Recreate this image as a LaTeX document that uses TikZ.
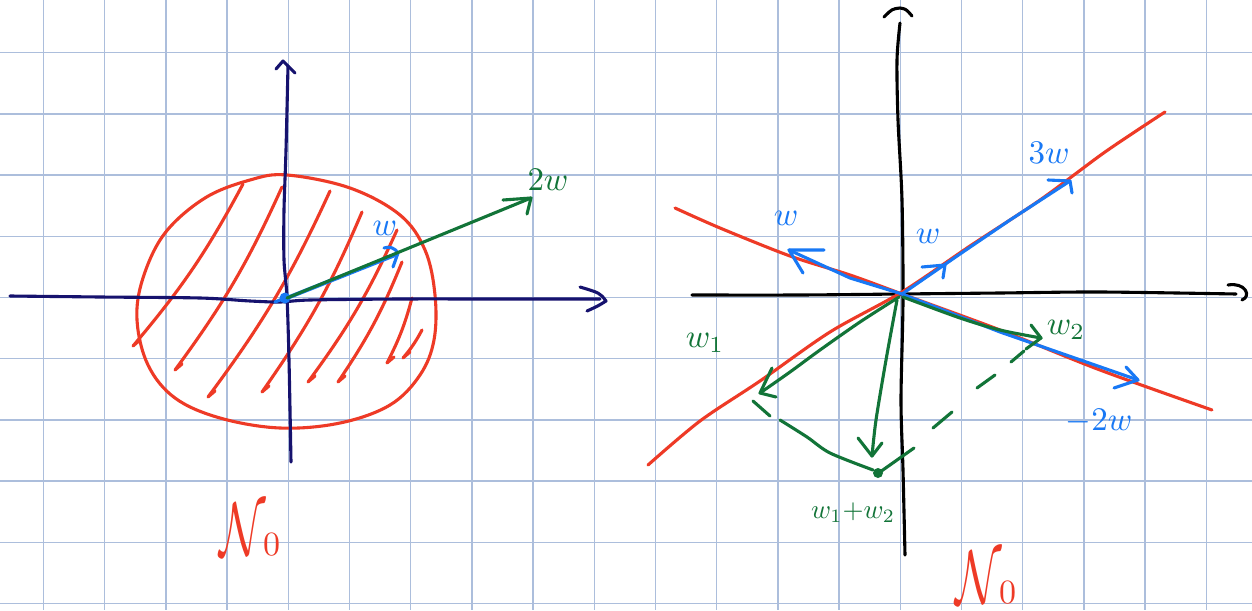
\documentclass[tikz,border=0pt]{standalone}
\usepackage{amsmath}
\definecolor{gridc}{RGB}{172,190,220}
\definecolor{navy}{RGB}{22,18,110}
\definecolor{pred}{RGB}{238,58,38}
\definecolor{pgreen}{RGB}{18,116,56}
\definecolor{pblue}{RGB}{24,120,245}
\tikzset{
  gridline/.style={draw=gridc, line width=1.4pt},
  pen/.style={line width=3.1pt, line cap=round, line join=round},
  lab/.style={inner sep=0pt},
}
\newcommand{\lbl}[1]{\scalebox{3.3}{$#1$}}
\newcommand{\bigN}{\scalebox{4.8}[7.6]{$\mathcal{N}$}\kern-3pt\scalebox{3.4}{$0$}}
\begin{document}
\begin{tikzpicture}[x=1pt,y=-1pt]
\useasboundingbox (0,0) rectangle (1252,610);
\fill[white] (0,0) rectangle (1252,610);
% grid
\foreach \k in {0,...,19} \draw[gridline] ({43.5+61.2*\k},0) -- ({43.5+61.2*\k},610);
\foreach \j in {0,...,9} \draw[gridline] (0,{52.7+61.2*\j}) -- (1252,{52.7+61.2*\j});

% ================= LEFT =================
\coordinate (O1) at (287,298);
% red disc
\draw[pen,pred] plot[smooth cycle, tension=0.6] coordinates {(287,175) (350,188) (400,215) (425,250) (435,295) (434,340) (420,375) (390,405) (340,423) (280,428) (220,418) (175,398) (148,365) (137,320) (143,278) (165,233) (205,198) (250,180)};
% hatching
\foreach \bx/\by/\tx/\ty in {133/346/243/184, 175/370/282/187, 208/397/330/191, 262/392/362/212, 308/382/397/230, 338/382/402/262, 387/363/412/298, 403/358/422/330}
  \draw[pen,pred] ({\bx+7},{\by-6}) -- (\bx,\by) to[bend right=6] (\tx,\ty);
% axes
\draw[pen,navy] plot[smooth] coordinates {(10,296) (100,297) (200,298) (250,301) (280,302) (310,300) (400,299) (500,299) (600,299)};
\draw[pen,navy] (580,287) .. controls (600,293) .. (606,301) .. controls (598,306) .. (587,311);
\draw[pen,navy] plot[smooth] coordinates {(288,66) (286,150) (284,210) (284,260) (287,297) (289,360) (291,462)};
\draw[pen,navy] (276,69) -- (283,61) -- (295,73);
% w (blue) and 2w (green)
\draw[line width=4pt, line cap=round, pblue] (O1) -- (395,255);
\draw[pen,pblue] (384,248) to[bend left=40] (398,253) -- (393,267);
\fill[pblue] (285,298) circle (5.5);
\draw[pen,pblue] (275,302) -- (285,298);
\draw[pen,pgreen] (O1) -- (531,198);
\draw[pen,pgreen] (503,200) -- (531,198) -- (527,214);
\node[lab,text=pblue] (lw) at (385,228) {\lbl{w}};
\node[lab,text=pgreen] (l2w) at (548,180) {\lbl{2w}};
\node[text=pred,inner sep=0pt] (N1) at (250,530) {\bigN};

% ================= RIGHT =================
\coordinate (O2) at (902,294);
% axes
\draw[pen,black] plot[smooth] coordinates {(692,295) (800,295) (900,294) (1000,293) (1100,292) (1236,294)};
\draw[pen,black] (1228,285) .. controls (1245,282) and (1252,296) .. (1242,300);
\draw[pen,black] plot[smooth] coordinates {(900,23) (897,60) (898,120) (902,200) (903,300) (901,400) (903,470) (905,555)};
\draw[pen,black] (884,17) .. controls (892,9) .. (900,8) .. controls (906,9) .. (912,16);
% red lines
\draw[pen,pred] plot[smooth] coordinates {(675,208) (720,228) (790,256) (850,275) (902,294) (1000,330) (1100,370) (1212,410)};
\draw[pen,pred] plot[smooth] coordinates {(648,465) (700,421) (760,381) (830,332) (902,292) (970,246) (1040,200) (1105,152) (1165,112)};
% blue vectors
\draw[pen,pblue] (O2) -- (960,254) -- (1010,220) -- (1070,181);
\draw[pen,pblue] (1048,180) -- (1070,181) -- (1072,193);
\draw[pen,pblue] (922,267) -- (945,265) -- (943,278);
\draw[pen,pblue] (O2) -- (850,278) -- (789,250);
\draw[pen,pblue] (824,250) -- (789,250) -- (803,273);
\draw[pen,pblue] (O2) -- (1000,332) -- (1138,380);
\draw[pen,pblue] (1126,367) -- (1138,380) -- (1114,388);
\node[lab,text=pblue] (l3w) at (1049,153) {\lbl{3w}};
\node[lab,text=pblue] (lwl) at (786,218) {\lbl{w}};
\node[lab,text=pblue] (lwr) at (928,236) {\lbl{w}};
\node[lab,text=pblue] (lm2w) at (1099,421) {\lbl{-2w}};
% green vectors
\draw[pen,pgreen] plot[smooth] coordinates {(903,297) (960,318) (1000,330) (1041,338)};
\draw[pen,pgreen] (1031,325) -- (1041,338) -- (1026,349);
\draw[pen,pgreen] plot[smooth] coordinates {(899,297) (860,322) (820,350) (790,372) (760,393)};
\draw[pen,pgreen] (772,368) -- (760,393) -- (776,397);
\draw[pen,pgreen] plot[smooth] coordinates {(897,300) (886,360) (876,420) (872,456)};
\draw[pen,pgreen] (858,438) -- (872,456) -- (882,443);
% parallelogram completion
\draw[pen,pgreen] (753,401) -- (770,416);
\draw[pen,pgreen] plot[smooth] coordinates {(780,420) (807,437) (830,453) (873,470)};
\fill[pgreen] (878,473) circle (5);
\draw[pen,pgreen] (880,472) -- (914,448);
\draw[pen,pgreen] (933,428) -- (952,412);
\draw[pen,pgreen] (977,388) -- (995,375);
\draw[pen,pgreen] (1011,362) -- (1024,351);
\node[lab,text=pgreen] (lw2) at (1066,330) {\lbl{w_2}};
\node[lab,text=pgreen] (lw1) at (705,343) {\lbl{w_1}};
\node[lab,text=pgreen] (lsum) at (853,513) {\scalebox{2.7}{$w_1{+}w_2$}};
\node[text=pred,inner sep=0pt] (N2) at (986,578) {\bigN};
\end{tikzpicture}
\end{document}
